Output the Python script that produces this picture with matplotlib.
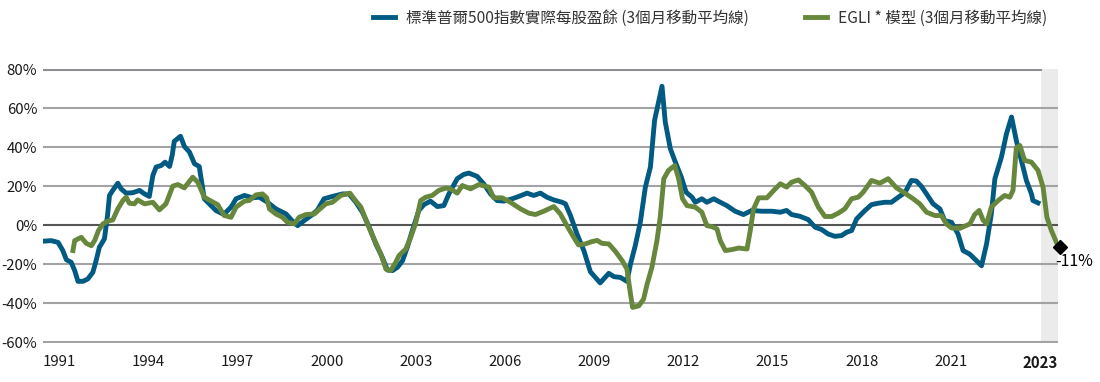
import matplotlib
matplotlib.use("Agg")
import matplotlib.pyplot as plt
from matplotlib.lines import Line2D

plt.rcParams['font.family'] = ['Noto Sans CJK TC', 'DejaVu Sans']

# 標準普爾500指數實際每股盈餘 (3個月移動平均線), year-over-year %
eps_t = [1990.45, 1990.73, 1990.96, 1991.12, 1991.24, 1991.40, 1991.52, 1991.63, 1991.80, 1991.96,
         1992.13, 1992.24, 1992.35, 1992.52, 1992.63, 1992.69, 1992.80, 1992.97, 1993.08, 1993.25,
         1993.47, 1993.70, 1993.87, 1994.03, 1994.15, 1994.26, 1994.43, 1994.56, 1994.71, 1994.80,
         1994.87, 1995.08, 1995.21, 1995.38, 1995.55, 1995.71, 1995.88, 1996.05, 1996.27, 1996.50,
         1996.61, 1996.78, 1996.95, 1997.23, 1997.51, 1997.73, 1998.01, 1998.29, 1998.63, 1998.85,
         1999.02, 1999.24, 1999.52, 1999.69, 1999.91, 2000.19, 2000.53, 2000.75, 2000.98, 2001.20,
         2001.43, 2001.65, 2001.87, 2002.04, 2002.21, 2002.38, 2002.55, 2002.71, 2002.88, 2003.10,
         2003.27, 2003.49, 2003.72, 2003.94, 2004.11, 2004.39, 2004.61, 2004.78, 2005.06, 2005.28,
         2005.51, 2005.73, 2005.96, 2006.24, 2006.46, 2006.74, 2006.96, 2007.19, 2007.41, 2007.64,
         2007.92, 2008.03, 2008.20, 2008.42, 2008.65, 2008.87, 2009.20, 2009.49, 2009.66, 2009.88,
         2010.10, 2010.22, 2010.38, 2010.55, 2010.72, 2010.89, 2011.03, 2011.28, 2011.39, 2011.56,
         2011.73, 2011.93, 2012.09, 2012.29, 2012.40, 2012.62, 2012.79, 2013.02, 2013.24, 2013.46,
         2013.74, 2014.02, 2014.30, 2014.64, 2014.97, 2015.26, 2015.47, 2015.64, 2015.92, 2016.20,
         2016.43, 2016.65, 2016.87, 2017.10, 2017.32, 2017.49, 2017.66, 2017.83, 2018.11, 2018.33,
         2018.55, 2018.78, 2019.00, 2019.23, 2019.45, 2019.67, 2019.84, 2020.01, 2020.18, 2020.40,
         2020.63, 2020.79, 2021.02, 2021.24, 2021.41, 2021.63, 2021.86, 2022.03, 2022.20, 2022.36,
         2022.48, 2022.70, 2022.87, 2023.04, 2023.20, 2023.37, 2023.54, 2023.71, 2023.76, 2023.93]
eps_v = [-8.2, -7.9, -8.8, -13, -17.7, -19, -23.3, -28.8, -28.8, -27.6,
         -24.2, -18.2, -11.3, -7, 5.8, 15.3, 17.9, 21.6, 18.7, 16.5,
         16.7, 17.9, 16.1, 14.8, 25.6, 29.9, 30.7, 32.4, 30.2, 35.9,
         43.1, 45.7, 40.5, 37.6, 31.6, 30.2, 13.6, 11, 7.6, 5.8,
         6.7, 9.3, 13.6, 15.3, 14.1, 14.4, 11.8, 8.4, 5.8, 2.1,
         -0.2, 2.4, 5.5, 7.9, 13.6, 14.8, 16.1, 16.1, 11.8, 6.7,
         -1, -9.6, -16.5, -23, -23.3, -21.6, -18.2, -11.3, -2.7, 7.6,
         10.6, 12.4, 9.6, 10.1, 16.1, 23.9, 26.1, 26.8, 25.1, 21.3,
         16.1, 12.7, 12.4, 13.6, 14.8, 16.5, 15.3, 16.5, 14.4, 13,
         11.8, 11, 5, -4.5, -13, -23.9, -29.6, -24.7, -26.4, -26.8,
         -28.8, -19.9, -10.5, 1.5, 19.6, 29.9, 53.9, 71.4, 53, 39.3,
         32.4, 24.7, 17, 14.4, 11.8, 13.6, 11.8, 13.6, 11.8, 10.1,
         7.2, 5.5, 7.6, 7.2, 7.2, 6.7, 7.6, 5.5, 4.6, 2.9,
         -1, -2.2, -4.5, -5.7, -5.3, -3.6, -2.7, 3.3, 7.6, 10.6,
         11.3, 11.8, 11.8, 14.4, 16.7, 23, 22.7, 19.9, 16.1, 11,
         8.4, 2.4, 1.5, -4.5, -13, -14.8, -18.2, -20.8, -9.6, 5.8,
         23.9, 35, 47, 55.6, 43.6, 33.3, 23, 16.1, 12.7, 11.5]

# EGLI * 模型 (3個月移動平均線)
egli_t = [1991.46, 1991.52, 1991.74, 1991.91, 1992.08, 1992.19, 1992.32, 1992.47, 1992.63, 1992.80,
          1992.97, 1993.14, 1993.25, 1993.36, 1993.53, 1993.64, 1993.87, 1994.15, 1994.37, 1994.59,
          1994.82, 1994.99, 1995.21, 1995.49, 1995.66, 1995.88, 1996.11, 1996.33, 1996.55, 1996.78,
          1996.95, 1997.23, 1997.39, 1997.62, 1997.84, 1997.98, 1998.07, 1998.29, 1998.51, 1998.68,
          1998.91, 1999.07, 1999.30, 1999.58, 1999.75, 1999.97, 2000.19, 2000.47, 2000.78, 2000.92,
          2001.15, 2001.37, 2001.59, 2001.82, 2001.99, 2002.15, 2002.32, 2002.43, 2002.66, 2002.83,
          2002.99, 2003.16, 2003.33, 2003.55, 2003.77, 2004.00, 2004.16, 2004.39, 2004.56, 2004.84,
          2005.12, 2005.45, 2005.62, 2005.90, 2006.18, 2006.52, 2006.80, 2007.02, 2007.30, 2007.64,
          2007.86, 2008.08, 2008.31, 2008.47, 2008.70, 2008.92, 2009.10, 2009.26, 2009.49, 2009.71,
          2009.94, 2010.10, 2010.22, 2010.29, 2010.50, 2010.66, 2010.78, 2010.94, 2011.11, 2011.22,
          2011.34, 2011.50, 2011.71, 2011.84, 2011.97, 2012.12, 2012.40, 2012.62, 2012.79, 2012.96,
          2013.13, 2013.24, 2013.41, 2013.63, 2013.86, 2014.14, 2014.25, 2014.36, 2014.53, 2014.81,
          2015.09, 2015.26, 2015.47, 2015.64, 2015.87, 2016.09, 2016.31, 2016.54, 2016.76, 2016.99,
          2017.21, 2017.43, 2017.66, 2017.88, 2018.05, 2018.33, 2018.61, 2018.89, 2019.17, 2019.45,
          2019.73, 2019.95, 2020.18, 2020.46, 2020.68, 2020.85, 2021.02, 2021.30, 2021.64, 2021.80,
          2021.95, 2022.08, 2022.20, 2022.36, 2022.59, 2022.81, 2022.98, 2023.09, 2023.20, 2023.32,
          2023.48, 2023.71, 2023.93, 2024.10, 2024.23, 2024.38, 2024.60, 2024.66]
egli_v = [-13, -7.9, -6.2, -9.3, -10.5, -7.9, -2.7, 0.7, 2.1, 2.7,
          8.4, 12.7, 14.4, 11.3, 11, 13, 11, 11.8, 7.9, 11,
          20.1, 20.9, 19.2, 24.7, 22.1, 14.4, 12.4, 10.6, 5, 4.1,
          9.3, 12.4, 12.7, 15.6, 16.1, 14.1, 8.4, 5.8, 4.1, 1.5,
          0.7, 4.1, 5.5, 5.8, 8.1, 11, 11.8, 15.3, 16.5, 13.6,
          9.3, 0.7, -7, -14.8, -22.5, -23.3, -19.1, -15.6, -12.2, -6,
          1, 12.7, 14.4, 15.3, 17.9, 19.1, 18.7, 16.5, 20.4, 18.7,
          20.9, 19.6, 14.1, 14.1, 11.8, 8.4, 6.2, 5.5, 7.2, 9.6,
          5.8, -0.2, -6.2, -10.1, -9.6, -8.4, -7.8, -9.3, -9.6, -13.4,
          -18.2, -22.5, -35.4, -42.2, -41.4, -37.9, -30.2, -21.6, -7.9, 4.1,
          23.9, 28.2, 30.7, 23.9, 13.6, 10.1, 9.3, 6.7, -0.2, -0.7,
          -1.9, -7.9, -13, -12.5, -11.7, -12.2, -2.7, 8.4, 14.1, 14.1,
          18.7, 21.3, 19.6, 22.1, 23.3, 20.4, 17, 9.3, 4.5, 4.5,
          6.2, 8.4, 13.6, 14.4, 17, 23, 21.6, 23.9, 19.2, 16.5,
          13.6, 11, 6.7, 5, 5, 0.7, -1.4, -1.6, 0.7, 5.5,
          7.6, 2.7, 0.7, 9.3, 12.7, 15.3, 14.4, 17.9, 39.8, 41,
          33.3, 32.4, 28.2, 19.6, 4.1, -2.7, -10.5, -11.2]

tick_pos = [1991, 1994, 1997, 2000, 2003, 2006, 2009, 2012, 2015, 2018, 2021, 2024]
tick_lab = ["1991", "1994", "1997", "2000", "2003", "2006", "2009", "2012", "2015", "2018", "2021", "2023"]
y_ticks = [-60, -40, -20, 0, 20, 40, 60, 80]

blue = "#005a82"
green = "#66873c"

fig = plt.figure(figsize=(11, 3.82), dpi=100)
ax = fig.add_axes([0.039, 0.102, 0.923, 0.7186])

ax.axvspan(2024.04, 2024.61, ymin=0, ymax=1, color="#ebebeb", zorder=0, lw=0)
for yv in y_ticks:
    if yv == 80:
        ax.plot([1990.45, 2024.04], [yv, yv], color="#8e8e92", lw=1.5, zorder=1)
    else:
        ax.axhline(yv, color="#555555" if yv == 0 else "#a3a3a6", lw=1.5, zorder=1)

ax.plot(eps_t, eps_v, color=blue, lw=3.5, zorder=3, solid_joinstyle="round")
ax.plot(egli_t, egli_v, color=green, lw=3.5, zorder=4, solid_joinstyle="round")
ax.plot(egli_t[-1], egli_v[-1], marker="D", color="black", ms=7.5, zorder=5, clip_on=False)
ax.annotate(f"{round(egli_v[-1])}%", (egli_t[-1], egli_v[-1]), xytext=(-3.5, -4),
            textcoords="offset points", ha="left", va="top", fontsize=11.5, color="black",
            annotation_clip=False)

ax.set_xlim(1990.45, 2024.61)
ax.set_ylim(-60.5, 80.5)
ax.set_yticks(y_ticks)
ax.set_yticklabels([f"{v}%" for v in y_ticks])
ax.set_xticks(tick_pos)
ax.set_xticklabels(tick_lab)
ax.get_xticklabels()[-1].set_fontweight("bold")
ax.tick_params(axis="both", length=0, labelsize=10.8, colors="#1a1a1a")
ax.tick_params(axis="x", pad=8.5)
ax.tick_params(axis="y", pad=4)
for s in ax.spines.values():
    s.set_visible(False)

handles = [Line2D([], [], color=blue, lw=3.5), Line2D([], [], color=green, lw=3.5)]
labels = ["標準普爾500指數實際每股盈餘 (3個月移動平均線)", "EGLI * 模型 (3個月移動平均線)"]
fig.legend(handles, labels, loc="upper right", bbox_to_anchor=(0.965, 1.012), ncol=2, frameon=False,
           fontsize=11.2, handlelength=1.45, columnspacing=3.6, handletextpad=0.7,
           labelcolor="#333333")

fig.savefig("out.png", dpi=100)
